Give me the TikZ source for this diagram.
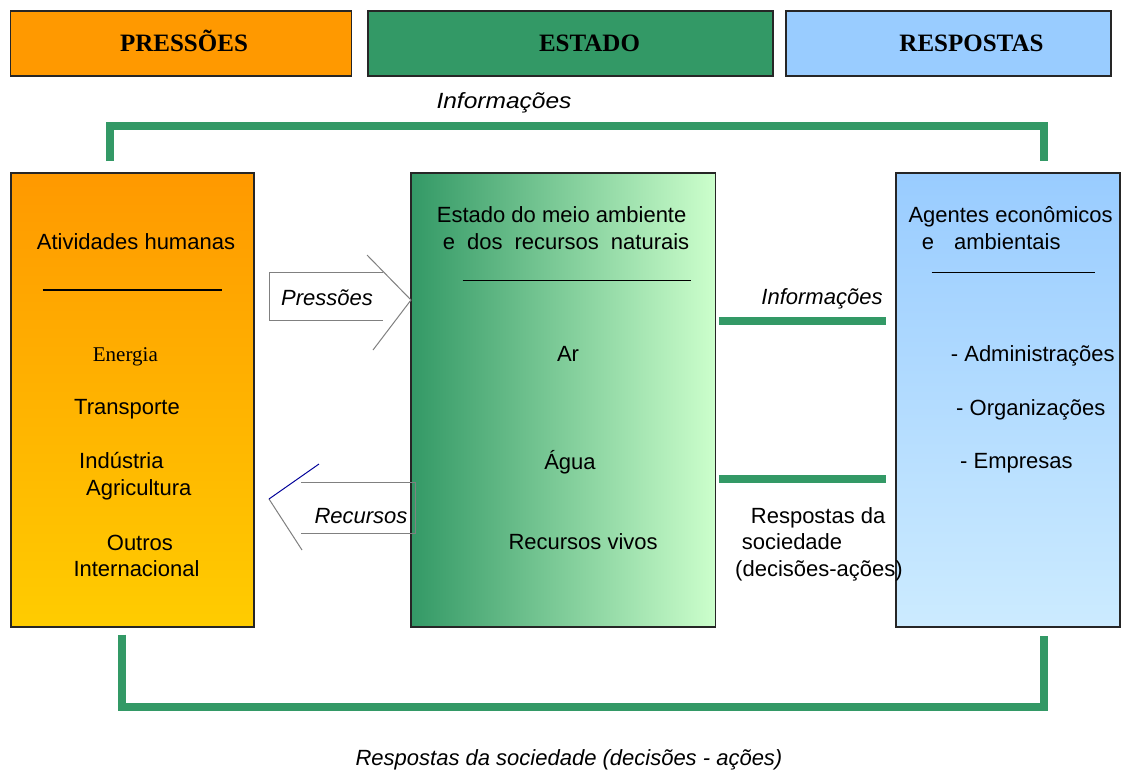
\documentclass[tikz,border=0pt]{standalone}
\usepackage{fontspec}
\setmainfont{Liberation Sans}
\newfontfamily\timesfont{Liberation Serif}
\usetikzlibrary{calc}
\definecolor{laranja}{HTML}{FF9900}
\definecolor{amarelo}{HTML}{FFCC00}
\definecolor{verde}{HTML}{339966}
\definecolor{verdeclaro}{HTML}{CCFFCC}
\definecolor{azul}{HTML}{99CCFF}
\definecolor{azulclaro}{HTML}{CCEBFF}
\definecolor{cinza}{HTML}{808080}
\definecolor{azulesc}{HTML}{000099}
\tikzset{
  cabec/.style={draw=black!85, line width=1.4pt, minimum height=65pt, inner sep=0pt},
  caixa/.style={draw=black!85, line width=1.4pt, inner sep=0pt, minimum height=454pt},
  titulo/.style={font=\timesfont\bfseries\fontsize{25}{30}\selectfont, inner sep=0pt, text height=16.5pt, text depth=0pt},
  txt/.style={font=\fontsize{22}{26}\selectfont, inner sep=0pt, text height=15.8pt, text depth=0pt},
  rot/.style={txt, font=\fontsize{22}{26}\selectfont\itshape},
  ligacao/.style={draw=verde, line width=8pt},
  seta/.style={draw=cinza, line width=1pt},
}
\begin{document}
\begin{tikzpicture}[x=1pt,y=-1pt]
			%%%%% START %%%%%
			\useasboundingbox[fill=white] (0,0) rectangle (1121,769);
			
			\node[cabec, fill=laranja, minimum width=341pt] (hpres) at (181,43.5) {};
			\node[cabec, fill=verde, minimum width=405pt] (hest) at (570.5,43.5) {};
			\node[cabec, fill=azul, minimum width=325pt] (hresp) at (948.5,43.5) {};
			\node[titulo] (tpres) at (184,43) {PRESSÕES};
			\node[titulo] (test) at (589.5,43) {ESTADO};
			\node[titulo] (tresp) at (971.5,43) {RESPOSTAS};
			
			\node[caixa, top color=laranja, bottom color=amarelo, minimum width=243pt] (atv) at (132.4,399.9) {};
			\node[caixa, left color=verde, right color=verdeclaro, minimum width=304.7pt] (est) at (563.3,399.9) {};
			\node[caixa, top color=azul, bottom color=azulclaro, minimum width=224pt] (agt) at (1008,399.9) {};
			
			\node[txt] (atvtit) at (136,241.5) {Atividades humanas};
			\draw[line width=1.2pt] (42.7,290) -- (222,290);
			\node[txt, font=\timesfont\fontsize{21}{25}\selectfont, anchor=west] (energia) at (92.7,353.5) {Energia};
			\node[txt, anchor=west] (transp) at (74,406.5) {Transporte};
			\node[txt, anchor=west] (ind) at (79,461) {Indústria};
			\node[txt, anchor=west] (agri) at (86,488) {Agricultura};
			\node[txt, anchor=west] (outros) at (106.7,542.5) {Outros};
			\node[txt, anchor=west] (inter) at (73.3,568.5) {Internacional};
			
			\node[txt, anchor=west] (esttit) at (436.7,214.7) {Estado do meio ambiente};
			\node[txt, anchor=west] (esttit2) at (442.7,241.4) {e\hspace{12pt}dos\hspace{12pt}recursos\hspace{12pt}naturais};
			\draw[line width=1.2pt] (462.7,280.7) -- (691,280.7);
			\node[txt] (ar) at (568,353.8) {Ar};
			\node[txt] (agua) at (570,461.4) {Água};
			\node[txt, anchor=west] (vivos) at (508.3,542) {Recursos vivos};
			
			\node[txt, anchor=west] (agttit) at (908.3,214.7) {Agentes econômicos};
			\node[txt, anchor=west] (agttit2) at (921.7,241.4) {e\hspace{20pt}ambientais};
			\draw[line width=1.2pt] (931.7,272.3) -- (1095,272.3);
			\node[txt, anchor=west] (adm) at (950.7,353.5) {- Administrações};
			\node[txt, anchor=west] (org) at (956,407.5) {- Organizações};
			\node[txt, anchor=west] (emp) at (960,461) {- Empresas};
			
			% ligacoes verdes
			\draw[ligacao] ([xshift=-22pt,yshift=11pt]atv.north) -- ++(0,-35) -| ([xshift=36pt,yshift=11pt]agt.north);
			\node[rot] (infotop) at (504,100.5) {\scalebox{1.115}[1]{Informações}};
			\draw[ligacao] ([xshift=2.5pt,yshift=79pt]est.east) -- ([xshift=-9pt,yshift=79pt]agt.west);
			\node[rot, anchor=east] (infomid) at (882.7,297) {Informações};
			\draw[ligacao] ([xshift=2.5pt,yshift=-79.5pt]est.east) -- ([xshift=-9pt,yshift=-79.5pt]agt.west);
			\node[txt, anchor=west] (resp1) at (750.7,515.5) {Respostas da};
			\node[txt, anchor=west] (resp2) at (741.7,542) {sociedade};
			\node[txt, anchor=west] (resp3) at (735,568.8) {(decisões-ações)};
			\draw[ligacao] ([xshift=-10pt,yshift=-7pt]atv.south) -- ++(0,72) -| ([xshift=36pt,yshift=-8pt]agt.south);
			\node[rot] (respbot) at (569,758) {Respostas da sociedade (decisões - ações)};
			
			% setas abertas
			\draw[seta] (383,272) -- (269,272) -- (269,320) -- (383,320);
			\draw[seta] (367,255) -- (411,300) -- (373,350);
			\node[rot] (lpres) at (327,297.5) {Pressões};
			\draw[seta] (301,482) -- (415,482) -- (415,533) -- (301,533);
			\draw[seta] (302,550) -- (269,499);
			\draw[azulesc, line width=1pt] (269,499) -- (319,464);
			\node[rot] (lrec) at (361,515.5) {Recursos};
			
			%%%%% END %%%%%
\end{tikzpicture}
\end{document}
